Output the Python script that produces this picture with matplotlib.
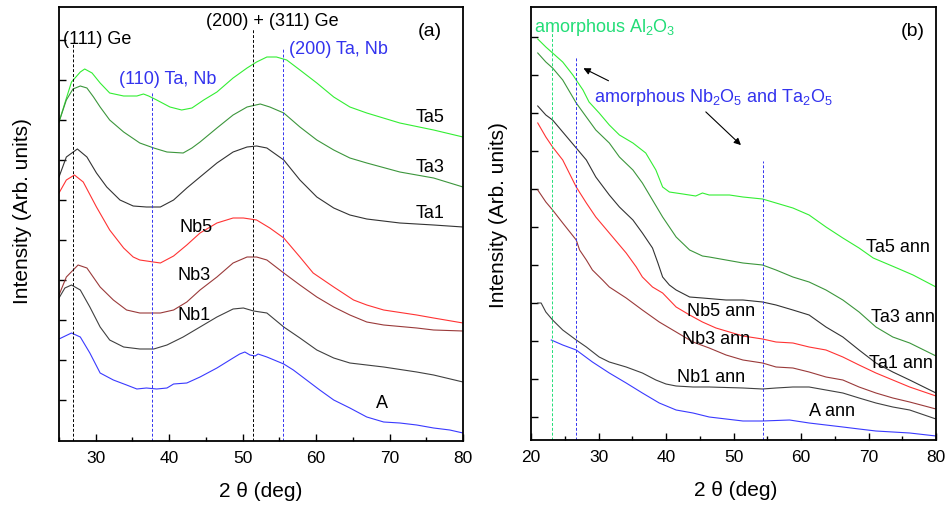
import matplotlib
matplotlib.use("Agg")
import matplotlib.pyplot as plt

plt.rcParams["font.family"] = ["Liberation Sans", "DejaVu Sans"]
plt.rcParams["mathtext.fontset"] = "custom"
plt.rcParams["mathtext.rm"] = "Liberation Sans"
plt.rcParams["mathtext.it"] = "Liberation Sans"
plt.rcParams["mathtext.default"] = "regular"

# --- (a) as-deposited, offset intensity (arb.) ---
ta5_x = [25.0, 25.8, 26.7, 27.9, 28.5, 29.5, 30.6, 31.9, 33.8, 35.6, 36.5, 37.2, 38.3, 40.1, 41.7, 43.1, 44.7, 46.5,
         48.7, 50.6, 51.9, 53.3, 54.6, 56.0, 57.8, 60.1, 62.4, 64.6, 66.9, 71.4, 76.0, 80.0]
ta5_y = [319, 338, 359, 369, 372, 368, 358, 348, 345, 345, 347, 345, 341, 334, 331, 333, 341, 349,
         363, 373, 379, 384, 384, 381, 371, 358, 344, 334, 328, 318, 311, 304]

ta3_x = [25.0, 26.0, 26.9, 27.9, 28.8, 29.7, 30.6, 31.9, 33.8, 36.0, 37.9, 39.7, 41.9, 43.1, 44.2, 46.5, 48.7,
         50.6, 52.4, 53.7, 55.6, 57.8, 60.1, 62.4, 64.6, 66.9, 71.4, 76.0, 80.0]
ta3_y = [319, 341, 352, 355, 353, 344, 334, 321, 309, 298, 293, 289, 288, 293, 299, 313, 326,
         334, 337, 334, 328, 314, 301, 291, 283, 278, 269, 263, 254]

ta1_x = [25.0, 26.0, 27.5, 28.8, 30.1, 31.5, 33.3, 35.1, 36.9, 38.8, 40.6, 42.4, 44.2, 46.5, 48.7, 50.6, 51.9,
         53.3, 55.6, 57.8, 60.1, 62.4, 64.6, 66.9, 71.4, 76.0, 80.0]
ta1_y = [264, 284, 292, 284, 268, 254, 241, 235, 234, 234, 241, 253, 264, 278, 289, 294, 295,
         293, 281, 261, 244, 233, 226, 222, 218, 216, 214]

nb5_x = [25.0, 26.0, 27.1, 28.3, 30.1, 31.9, 33.8, 35.1, 36.0, 38.8, 40.6, 42.4, 44.2, 46.5, 48.7, 50.1, 51.9,
         53.7, 55.6, 57.8, 59.6, 62.4, 65.1, 66.9, 69.2, 73.7, 76.0, 80.0]
nb5_y = [248, 261, 266, 259, 234, 211, 193, 184, 181, 178, 185, 196, 208, 218, 223, 223, 221,
         213, 203, 184, 168, 154, 141, 136, 131, 126, 123, 118]

nb3_x = [25.0, 26.0, 27.6, 28.8, 30.6, 32.4, 34.2, 36.0, 38.8, 40.6, 42.4, 44.2, 46.5, 48.7, 50.6, 51.9, 53.3,
         55.6, 57.8, 60.1, 62.4, 64.6, 66.9, 69.2, 73.7, 76.0, 80.0]
nb3_y = [146, 164, 176, 173, 154, 141, 131, 128, 128, 131, 139, 151, 164, 178, 184, 184, 181,
         168, 156, 144, 134, 126, 119, 116, 113, 111, 110]

nb1_x = [25.0, 25.8, 26.7, 27.9, 29.2, 30.6, 31.9, 33.8, 36.0, 37.9, 39.7, 41.9, 44.2, 46.5, 48.7, 50.1, 51.5,
         53.3, 55.6, 57.8, 60.1, 62.4, 64.6, 66.9, 69.2, 73.7, 76.0, 80.0]
nb1_y = [143, 153, 156, 151, 134, 114, 101, 94, 92, 92, 96, 104, 114, 124, 132, 133, 130,
         128, 114, 103, 91, 83, 78, 76, 74, 69, 66, 59]

a_x = [25.0, 26.7, 27.9, 29.2, 30.6, 32.4, 34.2, 35.6, 36.9, 38.3, 39.7, 40.6, 42.4, 44.2, 46.5, 48.7, 49.6,
       50.3, 51.0, 51.7, 52.1, 53.3, 55.6, 56.9, 58.7, 60.5, 62.4, 64.6, 66.9, 69.2, 71.4, 73.7, 76.0, 78.2, 80.0]
a_y = [102, 108, 104, 88, 68, 61, 56, 52, 53, 52, 53, 57, 58, 64, 73, 83, 87,
       89, 86, 85, 87, 84, 77, 71, 61, 51, 41, 33, 24, 19, 18, 16, 13, 11, 8]

# --- (b) annealed ---
ta5a_x = [21.0, 22.2, 23.2, 24.7, 26.2, 27.7, 28.6, 30.1, 31.6, 33.1, 35.1, 37.0, 38.5, 39.5, 40.5, 42.5, 44.4,
          45.4, 46.4, 49.4, 51.4, 54.3, 56.3, 58.8, 61.2, 63.7, 66.2, 68.6, 70.7, 74.2, 76.6, 80.0]
ta5a_y = [401, 393, 387, 378, 365, 350, 338, 327, 315, 305, 297, 287, 270, 253, 248, 246, 244,
          247, 245, 245, 243, 241, 237, 232, 225, 213, 202, 192, 182, 172, 165, 153]

ta3a_x = [21.0, 22.2, 23.2, 24.7, 26.7, 28.2, 29.6, 31.6, 33.1, 35.1, 36.5, 38.0, 39.5, 41.5, 43.5, 45.4, 46.4,
          48.9, 51.4, 54.3, 56.3, 58.8, 61.2, 63.7, 66.2, 68.6, 71.1, 73.6, 76.1, 80.0]
ta3a_y = [387, 378, 372, 360, 337, 323, 310, 297, 283, 270, 257, 240, 223, 203, 190, 184, 183,
          180, 177, 175, 170, 163, 158, 150, 140, 128, 113, 103, 97, 84]

ta1a_x = [21.0, 22.2, 23.2, 24.7, 26.7, 28.2, 29.6, 31.6, 33.1, 35.1, 36.5, 38.0, 38.8, 39.5, 40.5, 41.5, 43.5,
          45.4, 48.9, 51.4, 54.3, 56.3, 58.8, 61.2, 63.7, 66.2, 68.6, 71.1, 73.6, 76.1, 80.0]
ta1a_y = [334, 325, 320, 308, 292, 280, 263, 245, 233, 220, 207, 192, 177, 163, 155, 150, 143,
          142, 140, 140, 138, 135, 130, 125, 113, 103, 90, 77, 68, 60, 47]

nb5a_x = [21.0, 22.2, 23.2, 24.7, 26.7, 28.2, 29.6, 31.6, 33.1, 34.1, 35.6, 36.5, 38.0, 39.5, 41.5, 43.5, 45.4,
          47.4, 49.4, 51.4, 54.3, 56.3, 58.8, 61.2, 63.7, 66.2, 68.6, 71.1, 73.6, 76.1, 80.0]
nb5a_y = [317, 303, 293, 280, 253, 237, 223, 207, 195, 187, 173, 163, 153, 147, 133, 125, 118,
          112, 108, 104, 101, 98, 97, 93, 90, 83, 75, 67, 60, 53, 44]

nb3a_x = [21.0, 22.2, 23.2, 24.7, 26.7, 27.2, 28.2, 29.1, 30.6, 31.6, 34.1, 36.5, 39.0, 41.5, 44.0, 46.4, 48.9,
          51.4, 54.3, 56.3, 58.8, 61.2, 63.7, 66.2, 68.6, 71.1, 73.6, 76.1, 80.0]
nb3a_y = [250, 238, 230, 217, 200, 190, 180, 170, 160, 153, 142, 130, 118, 108, 98, 92, 85,
          80, 77, 73, 72, 68, 63, 60, 53, 47, 42, 38, 31]

nb1a_x = [21.0, 21.5, 22.2, 23.2, 24.7, 26.7, 28.2, 30.1, 31.6, 34.1, 36.5, 38.5, 40.0, 41.5, 44.0, 46.4, 51.4,
          54.3, 56.3, 58.8, 61.2, 63.7, 66.2, 68.6, 71.1, 73.6, 76.1, 80.0]
nb1a_y = [137, 137, 128, 120, 110, 100, 93, 83, 78, 73, 67, 60, 56, 54, 53, 53, 52,
          51, 52, 53, 53, 50, 47, 42, 37, 33, 30, 21]

aa_x = [23.0, 24.7, 26.7, 29.1, 31.6, 34.1, 36.5, 39.0, 41.5, 44.0, 46.4, 48.9, 51.4, 54.3, 58.3, 61.2, 63.7,
        66.2, 68.6, 71.1, 76.1, 80.0]
aa_y = [100, 95, 90, 78, 67, 57, 47, 37, 30, 27, 23, 21, 19, 19, 20, 17, 15,
        13, 11, 9, 7, 4]

c_ta5 = "#33ee33"
c_ta3 = "#3c963c"
c_ta1 = "#333333"
c_nb5 = "#ff3333"
c_nb3 = "#9a3a3a"
c_nb1 = "#404040"
c_a = "#3a3aff"
c_blue = "#3333ee"
c_al = "#22dd77"

fig = plt.figure(figsize=(9.46, 5.08), dpi=100)
W, H = 946, 508
ax1 = fig.add_axes([59 / W, 1 - 441 / H, 404 / W, 434 / H])
ax2 = fig.add_axes([531 / W, 1 - 440 / H, 405 / W, 433 / H])

lw = 0.8
dash = (0, (3, 2))

# --- panel (a) ---
ax1.plot(ta5_x, ta5_y, color=c_ta5, lw=lw)
ax1.plot(ta3_x, ta3_y, color=c_ta3, lw=lw)
ax1.plot(ta1_x, ta1_y, color=c_ta1, lw=lw)
ax1.plot(nb5_x, nb5_y, color=c_nb5, lw=lw)
ax1.plot(nb3_x, nb3_y, color=c_nb3, lw=lw)
ax1.plot(nb1_x, nb1_y, color=c_nb1, lw=lw)
ax1.plot(a_x, a_y, color=c_a, lw=lw)

ax1.vlines(26.9, 0, 398, colors="k", linestyles=dash, lw=0.7)
ax1.vlines(37.6, 0, 349, colors=c_blue, linestyles=dash, lw=0.7)
ax1.vlines(51.45, 0, 413, colors="k", linestyles=dash, lw=0.7)
ax1.vlines(55.5, 0, 393, colors=c_blue, linestyles=dash, lw=0.7)

fs = 13
ax1.text(25.5, 401, "(111) Ge", fontsize=fs, ha="left", va="center")
ax1.text(54.0, 420, "(200) + (311) Ge", fontsize=fs, ha="center", va="center")
ax1.text(39.8, 361, "(110) Ta, Nb", fontsize=fs, ha="center", va="center", color=c_blue)
ax1.text(63.0, 391, "(200) Ta, Nb", fontsize=fs, ha="center", va="center", color=c_blue)
ax1.text(75.5, 409, "(a)", fontsize=14, ha="center", va="center")
ax1.text(75.5, 324, "Ta5", fontsize=fs, ha="center", va="center")
ax1.text(75.5, 273, "Ta3", fontsize=fs, ha="center", va="center")
ax1.text(75.5, 228, "Ta1", fontsize=fs, ha="center", va="center")
ax1.text(43.7, 213, "Nb5", fontsize=fs, ha="center", va="center")
ax1.text(43.4, 166, "Nb3", fontsize=fs, ha="center", va="center")
ax1.text(43.4, 126, "Nb1", fontsize=fs, ha="center", va="center")
ax1.text(69.0, 38, "A", fontsize=fs, ha="center", va="center")

ax1.set_xlim(25, 80)
ax1.set_ylim(0, 434)
ax1.set_xticks([30, 40, 50, 60, 70, 80])
ax1.set_xticks([25, 35, 45, 55, 65, 75], minor=True)
ax1.set_yticks([41 + 40 * k for k in range(10)])

# --- panel (b) ---
ax2.plot(ta5a_x, ta5a_y, color=c_ta5, lw=lw)
ax2.plot(ta3a_x, ta3a_y, color=c_ta3, lw=lw)
ax2.plot(ta1a_x, ta1a_y, color=c_ta1, lw=lw)
ax2.plot(nb5a_x, nb5a_y, color=c_nb5, lw=lw)
ax2.plot(nb3a_x, nb3a_y, color=c_nb3, lw=lw)
ax2.plot(nb1a_x, nb1a_y, color=c_nb1, lw=lw)
ax2.plot(aa_x, aa_y, color=c_a, lw=lw)

ax2.vlines(23.1, 0, 411, colors=c_al, linestyles=dash, lw=0.7)
ax2.vlines(26.6, 0, 383, colors=c_blue, linestyles=dash, lw=0.7)
ax2.vlines(54.4, 0, 279, colors=c_blue, linestyles=dash, lw=0.7)

ax2.text(20.45, 413, "amorphous Al$_2$O$_3$", fontsize=fs, ha="left", va="center", color=c_al)
ax2.text(76.6, 408, "(b)", fontsize=14, ha="center", va="center")
ax2.text(47.0, 343, "amorphous Nb$_2$O$_5$ and Ta$_2$O$_5$", fontsize=fs, ha="center", va="center", color=c_blue)
ax2.annotate("", xy=(27.4, 373), xytext=(31.85, 358),
             arrowprops=dict(arrowstyle="-|>", color="k", lw=0.8, mutation_scale=10))
ax2.annotate("", xy=(51.4, 293), xytext=(45.6, 330),
             arrowprops=dict(arrowstyle="-|>", color="k", lw=0.8, mutation_scale=10))
ax2.text(74.4, 192, "Ta5 ann", fontsize=fs, ha="center", va="center")
ax2.text(75.1, 122, "Ta3 ann", fontsize=fs, ha="center", va="center")
ax2.text(74.8, 77, "Ta1 ann", fontsize=fs, ha="center", va="center")
ax2.text(48.1, 128, "Nb5 ann", fontsize=fs, ha="center", va="center")
ax2.text(47.4, 100, "Nb3 ann", fontsize=fs, ha="center", va="center")
ax2.text(46.7, 63, "Nb1 ann", fontsize=fs, ha="center", va="center")
ax2.text(64.6, 28, "A ann", fontsize=fs, ha="center", va="center")

ax2.set_xlim(20, 80)
ax2.set_ylim(0, 433)
ax2.set_xticks([20, 30, 40, 50, 60, 70, 80])
ax2.set_xticks([25, 35, 45, 55, 65, 75], minor=True)
ax2.set_yticks([23 + 38 * k for k in range(11)])

# --- shared formatting ---
for ax in (ax1, ax2):
    ax.tick_params(direction="in", which="major", length=5, width=1, labelsize=12.5, pad=7)
    ax.tick_params(direction="in", which="minor", length=3, width=1)
    ax.tick_params(axis="y", labelleft=False)
    for s in ax.spines.values():
        s.set_linewidth(1.3)
    ax.set_xlabel("2 θ (deg)", fontsize=15)
    ax.set_ylabel("Intensity (Arb. units)", fontsize=15)

ax1.xaxis.set_label_coords(0.50, -0.095)
ax2.xaxis.set_label_coords(0.506, -0.095)
ax1.yaxis.set_label_coords(-0.067, 0.53)
ax2.yaxis.set_label_coords(-0.057, 0.52)

fig.savefig("out.png", dpi=100)
